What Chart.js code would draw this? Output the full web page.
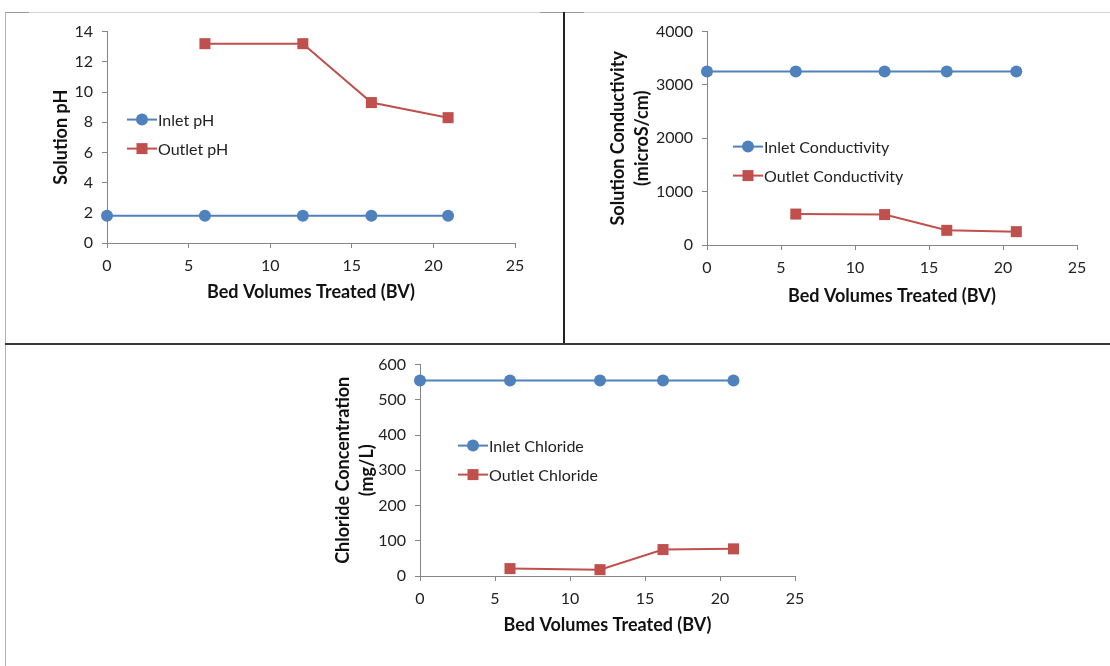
<!DOCTYPE html>
<html>
<head>
<meta charset="utf-8">
<script src="https://cdn.jsdelivr.net/npm/chart.js@4.4.1/dist/chart.umd.min.js"></script>
<style>
  body { margin: 0; background: #fff; width: 1110px; height: 666px; position: relative; overflow: hidden; }
  canvas { position: absolute; }
  .ln { position: absolute; }
</style>
</head>
<body>
<div class="ln" style="left:5px;top:12px;width:1105px;height:1px;background:#d4d4d4"></div>
<div class="ln" style="left:5px;top:12px;width:24px;height:1px;background:#999"></div>
<div class="ln" style="left:540px;top:12px;width:44px;height:1px;background:#999"></div>
<div class="ln" style="left:5px;top:12px;width:1px;height:654px;background:#b4b4b4"></div>
<div class="ln" style="left:563px;top:12px;width:2px;height:332px;background:#222"></div>
<div class="ln" style="left:5px;top:343px;width:1105px;height:2px;background:#3a3a3a"></div>

<canvas id="phChart" width="559" height="330" style="left:5px;top:13px"></canvas>
<canvas id="condChart" width="545" height="330" style="left:565px;top:13px"></canvas>
<canvas id="clChart" width="1105" height="320" style="left:5px;top:346px"></canvas>

<script>
// bed volumes treated
const bvInlet = [0, 6, 12, 16.2, 20.9];
const bvOutlet = [6, 12, 16.2, 20.9];

const phInlet = [1.8, 1.8, 1.8, 1.8, 1.8];
const phOutlet = [13.2, 13.2, 9.3, 8.3];

const condInlet = [3250, 3250, 3250, 3250, 3250];
const condOutlet = [580, 570, 275, 250];

const clInlet = [555, 555, 555, 555, 555];
const clOutlet = [21, 18, 75, 77];

const xTitle = 'Bed Volumes Treated (BV)';
const blue = '#4F81BD';
const red = '#C0504D';
const axisGray = '#868686';
const font = 'Lato';

function pts(xs, ys) {
    return xs.map((x, i) => ({ x: x, y: ys[i] }));
}

// legend drawn inside the plot, at an offset from the chart area
const innerLegend = {
    id: 'innerLegend',
    afterDraw(chart, args, opts) {
        const ctx = chart.ctx;
        const a = chart.chartArea;
        ctx.save();
        chart.data.datasets.forEach((ds, i) => {
            const cx = a.left + opts.x;
            const cy = a.top + opts.y + i * 29;
            ctx.strokeStyle = ds.borderColor;
            ctx.lineWidth = 2;
            ctx.beginPath();
            ctx.moveTo(cx - 15, cy);
            ctx.lineTo(cx + 15, cy);
            ctx.stroke();
            ctx.fillStyle = ds.backgroundColor;
            if (ds.pointStyle === 'rect') {
                ctx.fillRect(cx - 5.5, cy - 5.5, 11, 11);
            } else {
                ctx.beginPath();
                ctx.arc(cx, cy, 6, 0, Math.PI * 2);
                ctx.fill();
            }
            ctx.fillStyle = '#222';
            ctx.font = '16px ' + font;
            ctx.textBaseline = 'middle';
            ctx.textAlign = 'left';
            ctx.fillText(ds.label, cx + 16, cy + 1);
        });
        ctx.restore();
    }
};

function makeChart(id, c) {
    const canvas = document.getElementById(id);
    const ctx = canvas.getContext('2d');
    return new Chart(ctx, {
        type: 'line',
        data: {
            datasets: [
                {
                    label: c.labels[0],
                    data: pts(bvInlet, c.inlet),
                    borderColor: blue,
                    backgroundColor: blue,
                    borderWidth: 2,
                    pointStyle: 'circle',
                    pointRadius: 6,
                    pointBorderWidth: 0,
                    tension: 0,
                    clip: false
                },
                {
                    label: c.labels[1],
                    data: pts(bvOutlet, c.outlet),
                    borderColor: red,
                    backgroundColor: red,
                    borderWidth: 2,
                    pointStyle: 'rect',
                    pointRadius: 7.8,
                    pointBorderWidth: 0,
                    tension: 0,
                    clip: false
                }
            ]
        },
        options: {
            responsive: false,
            animation: false,
            layout: { padding: c.pad },
            scales: {
                x: {
                    type: 'linear',
                    min: 0,
                    max: 25,
                    border: { display: true, color: axisGray, width: 1 },
                    grid: { drawOnChartArea: false, drawTicks: true, tickLength: 5, color: axisGray },
                    ticks: { stepSize: 5, padding: 8, color: '#222', font: { family: font, size: 16 } },
                    title: {
                        display: true, text: xTitle, color: '#111', padding: 0,
                        font: { family: font, size: 18, weight: 'bold', lineHeight: 1.35 }
                    },
                    afterFit: s => { s.height = c.xh; }
                },
                y: {
                    min: 0,
                    max: c.yMax,
                    border: { display: true, color: axisGray, width: 1 },
                    grid: { drawOnChartArea: false, drawTicks: true, tickLength: 5, color: axisGray },
                    ticks: {
                        stepSize: c.yStep, padding: 9, color: '#222', font: { family: font, size: 16 },
                        callback: v => String(v)
                    },
                    title: {
                        display: true, text: c.yTitle, color: '#111', padding: 0,
                        font: { family: font, size: 18, weight: 'bold', lineHeight: 1.35 }
                    },
                    afterFit: s => { s.width = c.yw; }
                }
            },
            plugins: {
                legend: { display: false },
                tooltip: { enabled: false },
                innerLegend: c.legendAt
            }
        },
        plugins: [innerLegend]
    });
}

document.addEventListener('DOMContentLoaded', () => {
    makeChart('phChart', {
        labels: ['Inlet pH', 'Outlet pH'],
        inlet: phInlet,
        outlet: phOutlet,
        yMax: 14,
        yStep: 2,
        yTitle: 'Solution pH',
        pad: { left: 44, top: 17, right: 49, bottom: 39 },
        yw: 58,
        xh: 61,
        legendAt: { x: 35, y: 88 }
    });
    makeChart('condChart', {
        labels: ['Inlet Conductivity', 'Outlet Conductivity'],
        inlet: condInlet,
        outlet: condOutlet,
        yMax: 4000,
        yStep: 1000,
        yTitle: ['Solution Conductivity', '(microS/cm)'],
        pad: { left: 41, top: 17, right: 33, bottom: 35 },
        yw: 101,
        xh: 63,
        legendAt: { x: 41, y: 115 }
    });
    makeChart('clChart', {
        labels: ['Inlet Chloride', 'Outlet Chloride'],
        inlet: clInlet,
        outlet: clOutlet,
        yMax: 600,
        yStep: 100,
        yTitle: ['Chloride Concentration', '(mg/L)'],
        pad: { left: 326, top: 17, right: 315, bottom: 29 },
        yw: 89,
        xh: 61,
        legendAt: { x: 53, y: 81 }
    });
});
</script>
</body>
</html>
